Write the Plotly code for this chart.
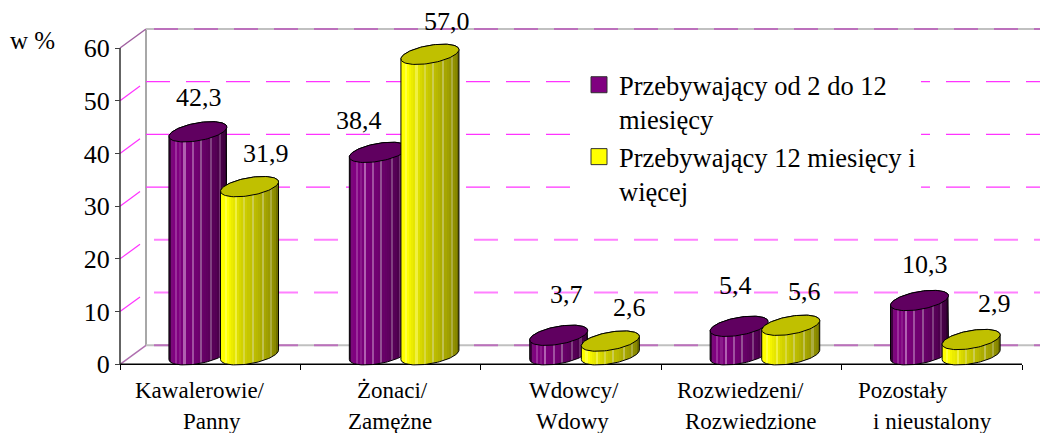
import math
import plotly.graph_objects as go

# ---------- data ----------
categories = [["Kawalerowie/", "Panny"], ["Żonaci/", "Zamężne"], ["Wdowcy/", "Wdowy"],
              ["Rozwiedzeni/", "Rozwiedzione"], ["Pozostały", "i nieustalony"]]
series_names = ["Przebywający od 2 do 12<br>miesięcy", "Przebywający 12 miesięcy i<br>więcej"]
values_short = [42.3, 38.4, 3.7, 5.4, 10.3]
values_long = [31.9, 57.0, 2.6, 5.6, 2.9]
y_ticks = [0, 10, 20, 30, 40, 50, 60]

# ---------- layout constants ----------
W, H = 1040, 433
L, R, T, B = 120, 1022, 48, 364.3
PX_X = (R - L) / 5
PX_Y = (B - T) / 60
X_MIN, X_MAX = -L / PX_X, (W - L) / PX_X
Y_MIN, Y_MAX = -(H - B) / PX_Y, B / PX_Y
DEPTH_X = 26 / PX_X
DEPTH_Y = 19 / PX_Y
SERIF = "Liberation Serif"
OFFSETS = [0.432, 0.718]
A, BB, S = 29 / PX_X, 9 / PX_Y, 4.7 / PX_Y
LIFT = 9.5 / PX_Y

def stepped(colors):
    n = len(colors)
    out = []
    for i, c in enumerate(colors):
        out += [[i / n, c], [(i + 1) / n, c]]
    return out

PURPLE = stepped(["#3c003c", "#7a0a7a", "#800080", "#9a309a", "#800080", "#8a1a8a", "#7a007a", "#b060b0", "#7a007a",
                  "#780078", "#750075", "#a050a0", "#720072", "#700070", "#6c006c", "#925092", "#680068", "#640064",
                  "#600060", "#5c005c", "#804080", "#580058", "#540054", "#4c004c", "#703070", "#460046", "#400040", "#300030"])
YELLOW = stepped(["#ffff00", "#ffff00", "#ffff40", "#ffff00", "#f4f400", "#ecec00", "#e6e600", "#f0f040", "#e0e000",
                  "#d8d800", "#d2d200", "#d8d840", "#cccc00", "#c6c600", "#c2c200", "#cccc50", "#bcbc00", "#b8b800",
                  "#b2b200", "#acac00", "#c0c050", "#a6a600", "#a0a000", "#9a9a00", "#acac40", "#909000", "#888800", "#707000"])
TOP_COL = ["#600060", "#c0c000"]
GRAD = [PURPLE, YELLOW]
SWATCH = ["#800080", "#ffff00"]

fig = go.Figure()

def line(xs, ys, color, width=1, dash=None):
    fig.add_trace(go.Scatter(x=xs, y=ys, mode="lines", showlegend=False, hoverinfo="skip",
                             line=dict(color=color, width=width, dash=dash)))

# walls
GRAY = "#c0c0c0"
line([DEPTH_X, DEPTH_X], [DEPTH_Y, 60 + DEPTH_Y], "#a8a8a8", 2)
line([0, DEPTH_X], [0, DEPTH_Y], "#b070b0", 1.5)
line([0, DEPTH_X], [60, 60 + DEPTH_Y], "#a060a0", 1.5)
line([DEPTH_X, X_MAX], [60 + DEPTH_Y] * 2, GRAY, 2)
line([DEPTH_X, X_MAX], [DEPTH_Y] * 2, GRAY, 2)
LATE_START = 8 / PX_X
for t in y_ticks:
    start = DEPTH_X + (0 if t in (30, 40, 50) else LATE_START)
    if t in (0, 60):
        col, wd = "#bc70bc", 2
    elif t in (10, 20):
        col, wd = "#ff80ff", 2
    else:
        col, wd = "#ff33ff", 1.2
    line([start, X_MAX], [t + DEPTH_Y] * 2, col, wd, "24px,16px")
    if 0 < t < 60:
        line([0, DEPTH_X * 0.77], [t, t + DEPTH_Y * 0.77], "#ff33ff", 1.2)

# axis lines on the front plane
line([0, 5], [0, 0], "#000000", 1.5)
line([0, 0], [0, 60], "#303030", 1.5)

# cylinders
N = 48
for g in range(5):
    for s, vals in enumerate([values_short, values_long]):
        v = vals[g]
        cx = g + OFFSETS[s]
        top = v + LIFT
        base = LIFT
        xs, ys = [], []
        for i in range(N + 1):
            t = math.pi + math.pi * i / N
            xs.append(cx + A * math.cos(t))
            ys.append(base + S * math.cos(t) + BB * math.sin(t))
        for i in range(N + 1):
            t = math.pi * i / N
            xs.append(cx + A * math.cos(t))
            ys.append(top + S * math.cos(t) + BB * math.sin(t))
        xs.append(xs[0]); ys.append(ys[0])
        fig.add_trace(go.Scatter(x=xs, y=ys, mode="lines", fill="toself", showlegend=False,
                                 hoverinfo="skip", line=dict(color="#000000", width=1),
                                 fillgradient=dict(type="horizontal", colorscale=GRAD[s])))
        ex, ey = [], []
        for i in range(2 * N + 1):
            t = 2 * math.pi * i / (2 * N)
            ex.append(cx + A * math.cos(t))
            ey.append(top + S * math.cos(t) + BB * math.sin(t))
        fig.add_trace(go.Scatter(x=ex, y=ey, mode="lines", fill="toself", fillcolor=TOP_COL[s],
                                 showlegend=False, hoverinfo="skip", line=dict(color="#000000", width=1)))

# legend entries
for s in range(2):
    fig.add_trace(go.Scatter(x=[None], y=[None], mode="markers", name=series_names[s], legendgroup=str(s),
                             marker=dict(symbol="square", size=16, color=SWATCH[s], line=dict(color="#303030", width=1))))

annotations = []
# value labels: pixel shifts from the bar top
SHIFT_X = [[1, -19.5, 8, -4, 5], [16.5, 17.5, 19, 14, 23]]
SHIFT_Y = [[43.5, 41.5, 50.5, 50.5, 46], [43, 42, 42.6, 43, 46]]
for s, vals in enumerate([values_short, values_long]):
    for g, v in enumerate(vals):
        annotations.append(dict(x=g + OFFSETS[s], y=v, xref="x", yref="y", text=f"{v:.1f}".replace(".", ","),
                                showarrow=False, xanchor="center", yanchor="middle",
                                xshift=SHIFT_X[s][g], yshift=SHIFT_Y[s][g],
                                font=dict(family=SERIF, size=26, color="#000000")))
# category labels
CAT_PX = [[200, 212], [392, 390], [574, 572], [740, 751], [903, 932]]
for g, cat in enumerate(categories):
    for ln, txt in enumerate(cat):
        annotations.append(dict(x=(CAT_PX[g][ln] - L) / PX_X, y=0, xref="x", yref="y", text=txt, showarrow=False,
                                xanchor="center", yanchor="middle", yshift=-(26 + 31.5 * ln),
                                font=dict(family=SERIF, size=23, color="#000000")))
annotations.append(dict(x=32 / W, y=1 - 40 / H, xref="paper", yref="paper", text="w %",
                        showarrow=False, xanchor="center", yanchor="middle",
                        font=dict(family=SERIF, size=25, color="#000000")))

fig.update_layout(
    width=W, height=H, autosize=False,
    margin=dict(l=0, r=0, t=0, b=0, pad=0, autoexpand=False),
    paper_bgcolor="#ffffff", plot_bgcolor="#ffffff",
    hovermode=False,
    font=dict(family=SERIF, color="#000000"),
    annotations=annotations,
    legend=dict(x=579 / W, y=1 - 61 / H, xanchor="left", yanchor="top", valign="top",
                bgcolor="#ffffff", borderwidth=0, tracegroupgap=11, traceorder="normal",
                font=dict(family=SERIF, size=26.5, color="#000000")),
    xaxis=dict(range=[X_MIN, X_MAX], tickvals=[0, 1, 2, 3, 4, 5], ticktext=[""] * 6, ticks="outside", ticklen=5,
               tickcolor="#000000", showgrid=False, zeroline=False, showline=False,
               anchor="free", position=(H - B) / H),
    yaxis=dict(range=[Y_MIN, Y_MAX], tickvals=y_ticks, ticks="outside", ticklen=5, tickcolor="#404040", showgrid=False,
               zeroline=False, showline=False, anchor="free", position=L / W,
               tickfont=dict(family=SERIF, size=26, color="#000000")),
)

fig.write_html("out.html", config=dict(displayModeBar=False), post_script="document.body.style.margin='0';")
